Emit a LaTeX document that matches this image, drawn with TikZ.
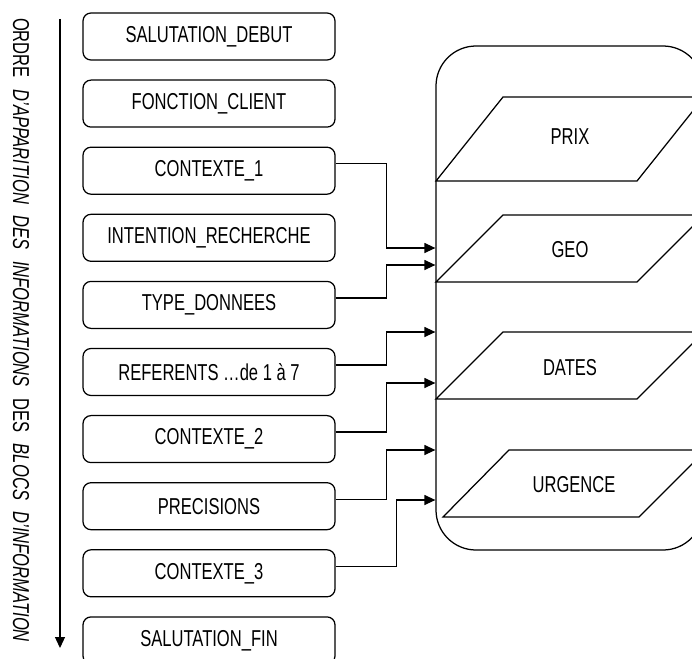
\documentclass[tikz,border=0pt]{standalone}
\usepackage{fontspec}
\setmainfont{Liberation Sans}[FakeStretch=0.72]
\usetikzlibrary{arrows.meta,positioning}

\begin{document}
\begin{tikzpicture}[x=1pt,y=-1pt,>={Triangle[length=11pt,width=10pt]},line width=1.25pt,
  bloc/.style={draw,rounded corners=8pt,minimum width=252pt,minimum height=47pt,inner sep=0pt,font=\fontsize{23}{27}\selectfont},
  champ/.style={inner sep=0pt,font=\fontsize{23}{27}\selectfont}]

	% Frame
	\useasboundingbox (0,0) rectangle (692,658);
	\clip (0,0) rectangle (692,658);

	% The order of the blocks
	\coordinate (oHaut) at (60,19);
	\coordinate (oBas) at (60,648);
	\node [champ,rotate=-90] at (21,330) (ordre) {ORDRE\hspace{11.5pt}\textit{D'APPARITION\hspace{11.5pt}DES\hspace{11.5pt}INFORMATIONS}\hspace{11.5pt}DES\hspace{11.5pt}\textit{BLOCS\hspace{11.5pt}D'INFORMATION}};
	\draw [->] (oHaut) -- (oBas);

	% The blocks
	\node [bloc] at (209,36.5) (sDebut) {SALUTATION\_DEBUT};
	\node [bloc] at (209,103.6) (fClient) {FONCTION\_CLIENT};
	\node [bloc] at (209,170.7) (ctxA) {CONTEXTE\_1};
	\node [bloc] at (209,237.8) (iRech) {INTENTION\_RECHERCHE};
	\node [bloc] at (209,304.9) (tDonn) {TYPE\_DONNEES};
	\node [bloc] at (209,372.0) (refs) {REFERENTS \dots de 1 à 7};
	\node [bloc] at (209,439.1) (ctxB) {CONTEXTE\_2};
	\node [bloc] at (209,506.2) (prec) {PRECISIONS};
	\node [bloc] at (209,573.3) (ctxC) {CONTEXTE\_3};
	\node [bloc] at (209,640.4) (sFin) {SALUTATION\_FIN};

	% The fields
	\node [draw,rounded corners=40pt,minimum width=267pt,minimum height=504pt] at (569.5,298) (zone) {};
	\draw (436,181) -- (503,97) -- (704,97) -- (637,181) -- cycle;
	\draw (436,282) -- (503,215) -- (704,215) -- (637,282) -- cycle;
	\draw (436,399) -- (503,332) -- (704,332) -- (637,399) -- cycle;
	\draw (443,517) -- (509,450) -- (706,450) -- (639,517) -- cycle;
	\node [champ] at (570,137) (prix) {PRIX};
	\node [champ] at (570,250) (geo) {GEO};
	\node [champ] at (570,368) (dates) {DATES};
	\node [champ] at (574,485) (urg) {URGENCE};

	% Entry points
	\coordinate (eA) at (zone.west |- 0,248);
	\coordinate (eB) at (zone.west |- 0,265);
	\coordinate (eC) at (zone.west |- 0,332);
	\coordinate (eD) at (zone.west |- 0,383);
	\coordinate (eE) at (zone.west |- 0,450);
	\coordinate (eF) at (zone.west |- 0,500);

	% Block edges
	\draw [->] ([yshift=7pt]ctxA.east) -- ++(51,0) |- (eA);
	\draw [->] ([yshift=7pt]tDonn.east) -- ++(51,0) |- (eB);
	\draw [->] ([yshift=7pt]refs.east) -- ++(51,0) |- (eC);
	\draw [->] ([yshift=7pt]ctxB.east) -- ++(51,0) |- (eD);
	\draw [->] ([yshift=7pt]prec.east) -- ++(51,0) |- (eE);
	\draw [->] ([yshift=7pt]ctxC.east) -- ++(61,0) |- (eF);

\end{tikzpicture}
\end{document}
